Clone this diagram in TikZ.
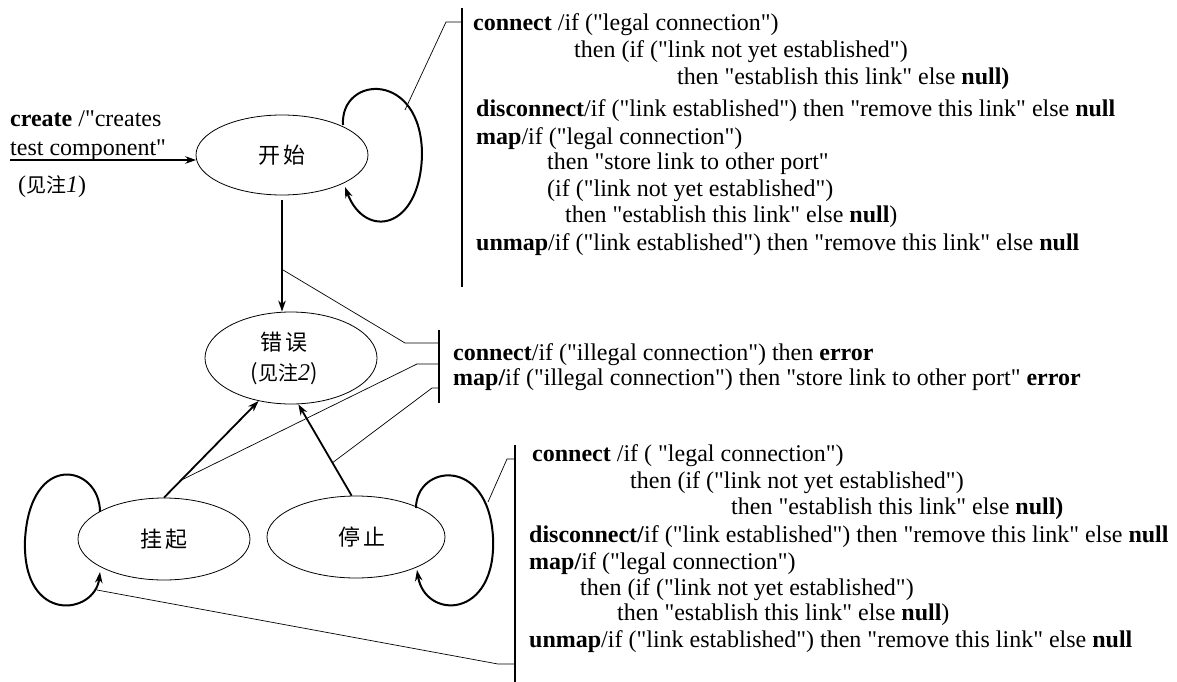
\documentclass[tikz,border=0pt]{standalone}
\usepackage{fontspec}
\newfontfamily\serif{Liberation Serif}
\newfontfamily\cjk{Noto Sans CJK SC}
\usetikzlibrary{arrows.meta,calc,shapes.geometric}
\newcommand\cgap{\hspace{4pt}}
\begin{document}
\begin{tikzpicture}[x=1pt,y=-1pt,
  st/.style={ellipse, draw, line width=0.8pt, inner sep=0pt, font=\cjk\fontsize{22}{27}\selectfont},
  arr/.style={line width=1.8pt, -{Stealth[length=11pt,width=7.5pt]}},
  selfloop/.style={line width=2pt, -{Stealth[length=11pt,width=7.5pt]}},
  thinline/.style={line width=0.7pt},
  brk/.style={line width=1.6pt},
  txt/.style={anchor=base west, inner sep=0pt, font=\serif\fontsize{24}{27}\selectfont}]
\useasboundingbox (0,0) rectangle (1177,682);

% states
\node[st, minimum width=172pt, minimum height=80pt] (kaishi) at (282,155) {开\cgap 始};
\node[st, minimum width=172pt, minimum height=92pt, align=center] (cuowu) at (291,358)
  {\hspace*{-14pt}错\cgap 误\\[3pt]\hspace*{-14pt}({\fontsize{20}{20}\selectfont 见注}{\serif\fontsize{24}{24}\selectfont\itshape 2})};
\node[st, minimum width=172pt, minimum height=82pt] (guaqi) at (164,539) {挂\cgap 起};
\node[st, minimum width=178pt, minimum height=82pt] (tingzhi) at (356,537) {\hspace*{12pt}停\cgap 止};

% create transition
\coordinate (cstart) at (10,160);
\draw[arr] (cstart) -- (kaishi.183 |- cstart);
\node[txt] (d1) at (10,127) {\textbf{create} /"creates};
\node[txt] (d2) at (10,155) {test component"};
\node[txt] (d3) at (18,192) {({\cjk\fontsize{20}{20}\selectfont 见注}\textit{1})};

% transitions
\draw[arr] ([yshift=-5pt]kaishi.south) -- coordinate[pos=0.62] (m1) (kaishi.south |- cuowu.north);
\draw[arr] (guaqi.north) -- coordinate[pos=0.18] (m2) (cuowu.233);
\draw[arr] (tingzhi.96) -- coordinate[pos=0.36] (m3) (cuowu.279);

% self loops
\draw[selfloop] (343,125) .. controls (340,75) and (422,70) .. (422,155)
  .. controls (420,230) and (365,240) .. (345,187);
\draw[selfloop] (100,512) .. controls (100,465) and (30,450) .. (25,540)
  .. controls (22,625) and (95,615) .. (100,572);
\draw[selfloop] (416,508) .. controls (416,465) and (488,455) .. (493,537)
  .. controls (497,620) and (425,620) .. (417,570);

% brackets
\coordinate (b1top) at (462,8);
\coordinate (b1bot) at (462,287);
\draw[brk] (b1top) -- (b1bot);
\coordinate (b2top) at (439,330);
\coordinate (b2bot) at (439,403);
\draw[brk] (b2top) -- (b2bot);
\coordinate (b3top) at (515,445);
\coordinate (b3bot) at (515,682);
\draw[brk] (b3top) -- (b3bot);

% callouts
\coordinate (l1) at (405,110);
\coordinate (k1) at (446,22);
\draw[thinline] (l1) -- (k1) -- (k1 -| b1top);
\coordinate (k2) at (405,343);
\draw[thinline] (m1) -- (k2) -- (k2 -| b2top);
\coordinate (k3) at (417,364);
\draw[thinline] (m2) -- (k3) -- (k3 -| b2top);
\coordinate (k4) at (432,388);
\draw[thinline] (m3) -- (k4) -- (k4 -| b2top);
\coordinate (l2) at (488,502);
\coordinate (k5) at (507,459);
\draw[thinline] (l2) -- (k5) -- (k5 -| b3top);
\coordinate (l3) at (97,590);
\coordinate (k6) at (498,664);
\draw[thinline] (l3) -- (k6) -- (k6 -| b3top);

% top text block
\node[txt] (a1) at (473,31) {\textbf{connect} /if ("legal connection")};
\node[txt] (a2) at (574,58) {then (if ("link not yet established")};
\node[txt] (a3) at (677,85) {then "establish this link" else \textbf{null)}};
\node[txt] (a4) at (476,117) {\textbf{disconnect}/if ("link established") then "remove this link" else \textbf{null}};
\node[txt] (a5) at (476,144) {\textbf{map}/if ("legal connection")};
\node[txt] (a6) at (547,169) {then "store link to other port"};
\node[txt] (a7) at (547,196) {(if ("link not yet established")};
\node[txt] (a8) at (565,222) {then "establish this link" else \textbf{null})};
\node[txt] (a9) at (476,250) {\textbf{unmap}/if ("link established") then "remove this link" else \textbf{null}};

% middle text block
\node[txt] (b1) at (453,360) {\textbf{connect}/if ("illegal connection") then \textbf{error}};
\node[txt] (b2) at (453,385) {\textbf{map/}if ("illegal connection") then "store link to other port" \textbf{error}};

% bottom text block
\node[txt] (c1) at (532,461) {\textbf{connect} /if ( "legal connection")};
\node[txt] (c2) at (630,488) {then (if ("link not yet established")};
\node[txt] (c3) at (731,514) {then "establish this link" else \textbf{null)}};
\node[txt] (c4) at (529,542) {\textbf{disconnect/}if ("link established") then "remove this link" else \textbf{null}};
\node[txt] (c5) at (529,569) {\textbf{map/}if ("legal connection")};
\node[txt] (c6) at (580,595) {then (if ("link not yet established")};
\node[txt] (c7) at (617,620) {then "establish this link" else \textbf{null})};
\node[txt] (c8) at (529,647) {\textbf{unmap}/if ("link established") then "remove this link" else \textbf{null}};
\end{tikzpicture}
\end{document}
